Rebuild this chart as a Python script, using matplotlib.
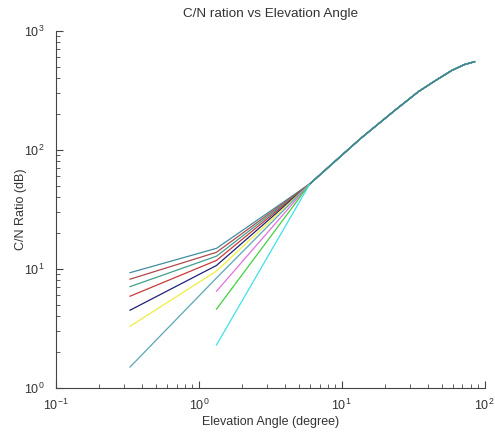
import numpy as np
import matplotlib
matplotlib.use("Agg")
import matplotlib.pyplot as plt

plt.rcParams['font.family'] = ['Liberation Sans', 'DejaVu Sans']
plt.rcParams['mathtext.fontset'] = 'custom'
plt.rcParams['mathtext.rm'] = 'Liberation Sans'
plt.rcParams['mathtext.it'] = 'Liberation Sans'
plt.rcParams['mathtext.bf'] = 'Liberation Sans'

# shared high-elevation part of every curve
common_x = [6, 10, 13.6, 23.8, 34.5, 45, 59, 72, 85]
common_y = [52, 90, 125, 217, 309, 380, 465, 520, 550]

# curves starting at low elevation (0.33 deg), value at 0.33 and at 1.33
low_start = [9.3, 8.2, 7.1, 5.9, 4.5, 3.3, 1.5]
low_bend = [14.9, 13.8, 12.8, 11.8, 10.7, 9.6, 8.4]
low_colors = ['#3f8ea0', '#b04a4a', '#3ea08c', '#c83a3a', '#202078', '#eeee40', '#5aa6b6']

# curves starting at 1.33 deg
mid_start = [6.5, 4.6, 2.3]
mid_colors = ['#e070e0', '#40d040', '#40e0e8']

fig = plt.figure(figsize=(4.95, 4.34), dpi=100)
ax = fig.add_axes([0.113, 0.106, 0.866, 0.823])

for y0, y1, c in zip(low_start, low_bend, low_colors):
    ax.plot([0.33, 1.33] + common_x, [y0, y1] + common_y, color=c, lw=0.9)
for y0, c in zip(mid_start, mid_colors):
    ax.plot([1.33] + common_x, [y0] + common_y, color=c, lw=0.9)
ax.plot(common_x, common_y, color='#3f7f90', lw=1.0)

ax.set_xscale('log')
ax.set_yscale('log')
ax.set_xlim(0.1, 100)
ax.set_ylim(1, 1000)

for s in ['top', 'right']:
    ax.spines[s].set_visible(False)
for s in ['left', 'bottom']:
    ax.spines[s].set_color('#444444')
    ax.spines[s].set_linewidth(0.8)
ax.tick_params(which='both', direction='in', colors='#444444', labelcolor='#333333', labelsize=9)
ax.tick_params(which='major', length=5)
ax.tick_params(which='minor', length=3)
ax.tick_params(axis='x', which='major', pad=7)
ax.tick_params(axis='y', which='major', pad=8)

ax.set_title("C/N ration vs Elevation Angle", fontsize=9.7, color='#333333', pad=10)
ax.set_xlabel("Elevation Angle (degree)", fontsize=9, color='#333333', labelpad=2)
ax.set_ylabel("C/N Ratio (dB)", fontsize=9, color='#333333')
ax.yaxis.set_label_coords(-0.068, 0.5)

fig.savefig("out.png", dpi=100)
